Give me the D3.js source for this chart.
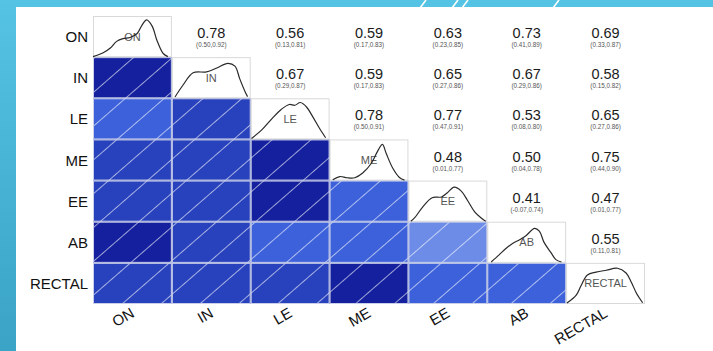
<!DOCTYPE html>
<html>
<head>
<meta charset="utf-8">
<script src="https://cdn.jsdelivr.net/npm/d3@7"></script>
<style>
  body { margin: 0; background: #fff; }
  svg { display: block; font-family: "Liberation Sans", Arial, sans-serif; }
</style>
</head>
<body>
<svg id="chart" width="713" height="351"></svg>
<script>
// Variables of the correlogram (rows and columns in the same order)
const variables = ["ON", "IN", "LE", "ME", "EE", "AB", "RECTAL"];

// Pearson r for each pair, upper triangle row by row (row i, columns i+1..end)
const rON = [0.78, 0.56, 0.59, 0.63, 0.73, 0.69];
const rIN = [0.67, 0.59, 0.65, 0.67, 0.58];
const rLE = [0.78, 0.77, 0.53, 0.65];
const rME = [0.48, 0.50, 0.75];
const rEE = [0.41, 0.47];
const rAB = [0.55];

// 95% confidence intervals, same layout
const ciON = ["(0.50,0.92)", "(0.13,0.81)", "(0.17,0.83)", "(0.23,0.85)", "(0.41,0.89)", "(0.33,0.87)"];
const ciIN = ["(0.29,0.87)", "(0.17,0.83)", "(0.27,0.86)", "(0.29,0.86)", "(0.15,0.82)"];
const ciLE = ["(0.50,0.91)", "(0.47,0.91)", "(0.08,0.80)", "(0.27,0.86)"];
const ciME = ["(0.01,0.77)", "(0.04,0.78)", "(0.44,0.90)"];
const ciEE = ["(-0.07,0.74)", "(0.01,0.77)"];
const ciAB = ["(0.11,0.81)"];

// Kernel density outlines on the diagonal: [x fraction, height fraction] within each panel
const densON = [[0.00,0.00],[0.13,0.10],[0.22,0.22],[0.30,0.39],[0.38,0.46],[0.47,0.49],[0.56,0.59],[0.62,0.80],[0.68,0.94],[0.75,0.78],[0.81,0.42],[0.89,0.08],[0.95,0.00]];
const densIN = [[0.04,0.02],[0.14,0.32],[0.27,0.64],[0.44,0.66],[0.57,0.76],[0.71,0.88],[0.80,0.81],[0.86,0.49],[0.93,0.15],[0.96,0.03]];
const densLE = [[0.01,0.01],[0.14,0.23],[0.27,0.52],[0.39,0.76],[0.49,0.88],[0.56,0.86],[0.63,0.93],[0.71,0.81],[0.78,0.59],[0.87,0.28],[0.95,0.03]];
const densME = [[0.04,0.01],[0.13,0.09],[0.22,0.06],[0.32,0.06],[0.42,0.18],[0.53,0.43],[0.61,0.74],[0.67,0.91],[0.72,0.67],[0.80,0.31],[0.89,0.06],[0.95,0.00]];
const densEE = [[0.03,0.00],[0.08,0.09],[0.18,0.36],[0.30,0.60],[0.42,0.62],[0.49,0.72],[0.58,0.87],[0.67,0.77],[0.75,0.53],[0.84,0.24],[0.93,0.07],[0.98,0.00]];
const densAB = [[0.05,0.01],[0.15,0.19],[0.24,0.36],[0.32,0.48],[0.41,0.58],[0.49,0.68],[0.60,0.87],[0.66,0.80],[0.72,0.51],[0.81,0.24],[0.87,0.07],[0.94,0.01]];
const densRECTAL = [[0.01,0.01],[0.13,0.22],[0.19,0.46],[0.27,0.73],[0.38,0.80],[0.51,0.85],[0.65,0.90],[0.76,0.78],[0.83,0.53],[0.89,0.27],[0.97,0.02]];

// ---- assemble lookup tables ----
const rRows = [rON, rIN, rLE, rME, rEE, rAB];
const ciRows = [ciON, ciIN, ciLE, ciME, ciEE, ciAB];
const densities = [densON, densIN, densLE, densME, densEE, densAB, densRECTAL];
const n = variables.length;
const corr = (i, j) => {           // symmetric access
  const a = Math.min(i, j), b = Math.max(i, j);
  return rRows[a][b - a - 1];
};
const ci = (i, j) => ciRows[i][j - i - 1];

const svg = d3.select("#chart");
const W = 713, H = 351;

// ---- slide frame ----
const defs = svg.append("defs");
const grad = defs.append("linearGradient").attr("id", "sideBand")
  .attr("x1", 0).attr("y1", 0).attr("x2", 0).attr("y2", 1);
grad.append("stop").attr("offset", "0%").attr("stop-color", "#55c3e3");
grad.append("stop").attr("offset", "100%").attr("stop-color", "#3aa3c6");

svg.append("rect").attr("width", W).attr("height", H).attr("fill", "#fff");
svg.append("rect").attr("x", 0).attr("y", 0).attr("width", W).attr("height", 7).attr("fill", "#55c3e3");
svg.append("rect").attr("x", 0).attr("y", 0).attr("width", 16).attr("height", H).attr("fill", "url(#sideBand)");
// light slashes across the top band
[420, 452, 462, 553].forEach(x0 => {
  svg.append("line").attr("x1", x0).attr("y1", 8).attr("x2", x0 + 6).attr("y2", 0)
    .attr("stroke", "#fff").attr("stroke-width", 1.6);
});

// ---- scales ----
const x = d3.scaleBand().domain(variables).range([93, 645]);
const y = d3.scaleBand().domain(variables).range([16, 304]);
const bw = x.bandwidth(), bh = y.bandwidth();

// 14 discrete shades over [-1, 1], red - salmon - white - royalblue - navy
const palette = d3.quantize(d3.piecewise(d3.interpolateRgb, ["red", "salmon", "white", "royalblue", "navy"]), 14);
const color = d3.scaleQuantize().domain([-1, 1]).range(palette);

// hatch lines for positive correlations
const hatch = defs.append("pattern").attr("id", "hatch")
  .attr("patternUnits", "userSpaceOnUse")
  .attr("width", 40).attr("height", 25.5)
  .attr("patternTransform", "translate(0,4) rotate(-41)");
hatch.append("line").attr("x1", 0).attr("y1", 0.5).attr("x2", 40).attr("y2", 0.5)
  .attr("stroke", "#ffffff").attr("stroke-opacity", 0.6).attr("stroke-width", 1.1);

// ---- lower triangle: shaded panels ----
const lower = [];
for (let i = 0; i < n; i++) for (let j = 0; j < i; j++) lower.push({ i, j, r: corr(i, j) });

const gLow = svg.append("g");
gLow.selectAll("rect.fill").data(lower).join("rect")
  .attr("class", "fill")
  .attr("x", d => x(variables[d.j])).attr("y", d => y(variables[d.i]))
  .attr("width", bw).attr("height", bh)
  .attr("fill", d => color(d.r));
gLow.selectAll("rect.hatch").data(lower).join("rect")
  .attr("class", "hatch")
  .attr("x", d => x(variables[d.j])).attr("y", d => y(variables[d.i]))
  .attr("width", bw).attr("height", bh)
  .attr("fill", "url(#hatch)");
gLow.selectAll("rect.box").data(lower).join("rect")
  .attr("class", "box")
  .attr("x", d => x(variables[d.j]) + 0.5).attr("y", d => y(variables[d.i]) + 0.5)
  .attr("width", bw - 1).attr("height", bh - 1)
  .attr("fill", "none").attr("stroke", "#c9cfe8").attr("stroke-width", 1);

// ---- upper triangle: r with confidence interval ----
const upper = [];
for (let i = 0; i < n; i++) for (let j = i + 1; j < n; j++) upper.push({ i, j, r: corr(i, j), ci: ci(i, j) });

const gUp = svg.append("g").attr("text-anchor", "middle");
gUp.selectAll("text.r").data(upper).join("text")
  .attr("class", "r")
  .attr("x", d => x(variables[d.j]) + bw / 2)
  .attr("y", d => y(variables[d.i]) + bh / 2 + 1.5)
  .attr("font-size", 14.5).attr("fill", "#1b1b1b")
  .text(d => d.r.toFixed(2));
gUp.selectAll("text.ci").data(upper).join("text")
  .attr("class", "ci")
  .attr("x", d => x(variables[d.j]) + bw / 2)
  .attr("y", d => y(variables[d.i]) + bh / 2 + 10.5)
  .attr("font-size", 6.3).attr("fill", "#555")
  .text(d => d.ci);

// ---- diagonal: density curves ----
const gDiag = svg.append("g");
variables.forEach((v, k) => {
  const x0 = x(v), y0 = y(v);
  const px = d3.scaleLinear().domain([0, 1]).range([x0, x0 + bw]);
  const py = d3.scaleLinear().domain([0, 1]).range([y0 + bh - 0.5, y0 + 1.5]);
  const g = gDiag.append("g");
  g.append("rect").attr("x", x0 + 0.5).attr("y", y0 + 0.5)
    .attr("width", bw - 1).attr("height", bh - 1)
    .attr("fill", "#fff").attr("stroke", "#d9d9d9");
  g.append("text")
    .attr("x", x0 + bw / 2).attr("y", y0 + bh / 2 + 4)
    .attr("text-anchor", "middle").attr("font-size", 11).attr("fill", "#555")
    .text(v);
  g.append("path")
    .datum(densities[k])
    .attr("d", d3.line().x(d => px(d[0])).y(d => py(d[1])).curve(d3.curveCatmullRom.alpha(0.5)))
    .attr("fill", "none").attr("stroke", "#2a2a2a").attr("stroke-width", 1.2);
});

// ---- axis labels ----
svg.append("g").selectAll("text").data(variables).join("text")
  .attr("x", 88).attr("y", d => y(d) + bh / 2 + 5.5)
  .attr("text-anchor", "end").attr("font-size", 15).attr("fill", "#111")
  .text(d => d);

svg.append("g").selectAll("text").data(variables).join("text")
  .attr("text-anchor", "end").attr("font-size", 15).attr("fill", "#111")
  .attr("transform", d => `translate(${x(d) + bw / 2 + 3},316) rotate(-30)`)
  .text(d => d);
</script>
</body>
</html>
